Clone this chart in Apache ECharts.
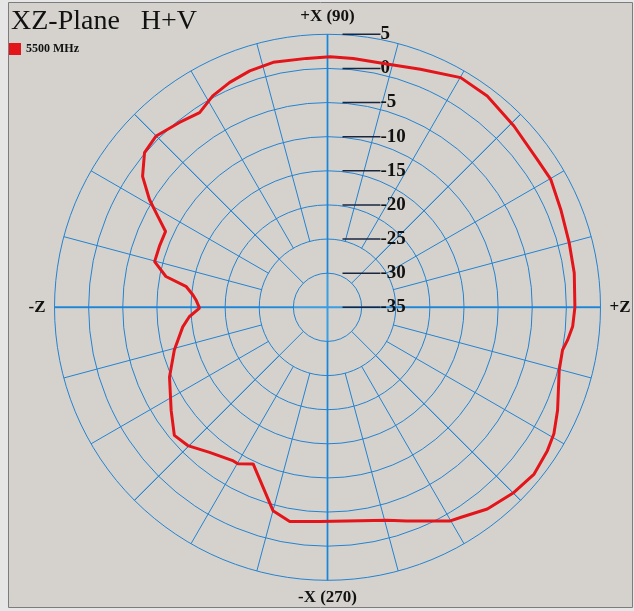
<!DOCTYPE html>
<html>
<head>
<meta charset="utf-8">
<script src="https://cdn.jsdelivr.net/npm/echarts@6/dist/echarts.min.js"></script>
<style>
  html, body { margin: 0; padding: 0; background: #e6e6e6; }
  #chart { width: 634px; height: 611px; }
</style>
</head>
<body>
<div id="chart"></div>
<script>
// 方位角 (度, 0 = +Z, 逆時針) 與增益 (dB)
const angles = [0, 7.9, 14.9, 22.7, 29.8, 35.2, 44.2, 52.9, 59.9, 68.7, 76.3, 84.1, 89.4,
  94.8, 102.5, 108.2, 113.5, 118.5, 123.3, 128.7, 135, 139.8, 144.7, 148.8, 151.8, 154.9,
  160.1, 165.2, 169.2, 171.7, 174.8, 176.8, 180.4, 183.9, 187.7, 195.6, 203.8, 213.4,
  219.9, 224.7, 230.9, 238.5, 240.2, 244.6, 255, 260, 268, 285.6, 290.4, 299.9, 302.3,
  308.4, 315.2, 321.1, 326.9, 330.8, 335.9, 344.8, 349.7, 352.2, 355.5, 360];
const gains = [1.25, 1.5, 1.65, 2.06, 2.7, 2.6, 3.1, 3.8, 3.9, 2.45, 1.7, 1.66, 1.7,
  1.6, 1.76, 1.47, 0.93, 0.24, -0.87, -0.3, 0.5, 0.1, -1.8, -4.5, -6.8, -8.8,
  -8.8, -8.8, -10.9, -14.1, -15.2, -15.7, -16.25, -14.7, -13.6, -11.7, -9.7, -7.56,
  -5.75, -6.2, -7.6, -8.6, -8.57, -9.6, -4.15, -3.13, -3.6, -2.6, -1.6, 1.1, 1.44,
  2.7, 3.5, 3.9, 3.46, 3.0, 1.93, 0.18, 0.0, 0.5, 1.03, 1.25];
// 刻度
const ringMin = -35;
const ringMax = 5;
const ringStep = 5;
// 方向標籤 (角度軸值 -> 文字, 0 在上方, 逆時針)
const dirLabels = { 0: '+X (90)', 90: '-Z', 180: '-X (270)', 270: '+Z' };

const center = [327.5, 307.3];
const outerR = 273;
const gridColor = '#2383d2';
const serif = '"Liberation Serif", "Times New Roman", serif';

const chart = echarts.init(document.getElementById('chart'));

const option = {
  backgroundColor: '#e6e6e6',
  animation: false,
  graphic: [{
    type: 'rect',
    z: -10,
    silent: true,
    shape: { x: 8.5, y: 2.5, width: 624, height: 605 },
    style: { fill: '#d5d2cd', stroke: '#7c7c7c', lineWidth: 1 }
  }],
  title: {
    text: 'XZ-Plane   H+V',
    left: 6,
    top: 3,
    textStyle: { fontFamily: serif, fontSize: 28, fontWeight: 'normal', color: '#111' }
  },
  legend: {
    left: 4,
    top: 38,
    icon: 'rect',
    itemWidth: 12,
    itemHeight: 12,
    itemGap: 4,
    textStyle: { fontFamily: serif, fontSize: 12, fontWeight: 'bold', color: '#111' }
  },
  polar: [
    { center: center, radius: [0, outerR] },   // 圓環 + 十字
    { center: center, radius: [34, outerR] },  // 45 度輻線
    { center: center, radius: [68, outerR] },  // 15 度輻線
    { center: center, radius: [0, outerR] }    // 資料
  ],
  angleAxis: [
    {
      polarIndex: 0, type: 'value', min: 0, max: 360, interval: 90,
      startAngle: 90, clockwise: false,
      axisLine: { show: false }, axisTick: { show: false },
      splitLine: { lineStyle: { color: '#3b9de2', width: 2 } },
      axisLabel: {
        margin: 9,
        fontFamily: serif, fontSize: 17, fontWeight: 'bold', color: '#111',
        formatter: v => dirLabels[v] || ''
      }
    },
    {
      polarIndex: 1, type: 'value', min: 0, max: 360, interval: 45,
      startAngle: 90, clockwise: false,
      axisLine: { show: false }, axisTick: { show: false }, axisLabel: { show: false },
      splitLine: { lineStyle: { color: gridColor, width: 1 } }
    },
    {
      polarIndex: 2, type: 'value', min: 0, max: 360, interval: 15,
      startAngle: 90, clockwise: false,
      axisLine: { show: false }, axisTick: { show: false }, axisLabel: { show: false },
      splitLine: { lineStyle: { color: gridColor, width: 1 } }
    },
    {
      polarIndex: 3, type: 'value', min: 0, max: 360,
      startAngle: 0, clockwise: false, show: false
    }
  ],
  radiusAxis: [
    {
      polarIndex: 0, type: 'value', min: ringMin, max: ringMax, interval: ringStep,
      axisLine: { show: false }, axisTick: { show: false },
      splitLine: { lineStyle: { color: gridColor, width: 1 } },
      axisLabel: {
        margin: -15,
        align: 'left',
        formatter: v => '{bar|}{t|' + v + '}',
        rich: {
          bar: { width: 38, height: 1.5, backgroundColor: '#1a2640', verticalAlign: 'middle' },
          t: { fontFamily: serif, fontSize: 19, fontWeight: 'bold', color: '#111', verticalAlign: 'middle' }
        }
      },
      z: 5
    },
    { polarIndex: 1, type: 'value', min: ringMin, max: ringMax, show: false },
    { polarIndex: 2, type: 'value', min: ringMin, max: ringMax, show: false },
    { polarIndex: 3, type: 'value', min: ringMin, max: ringMax, show: false }
  ],
  series: [{
    name: '5500 MHz',
    type: 'line',
    coordinateSystem: 'polar',
    polarIndex: 3,
    data: angles.map((a, i) => [gains[i], a]),
    symbol: 'none',
    color: '#e3151b',
    lineStyle: { color: '#e3151b', width: 3 },
    z: 10
  }]
};

chart.setOption(option);
</script>
</body>
</html>
